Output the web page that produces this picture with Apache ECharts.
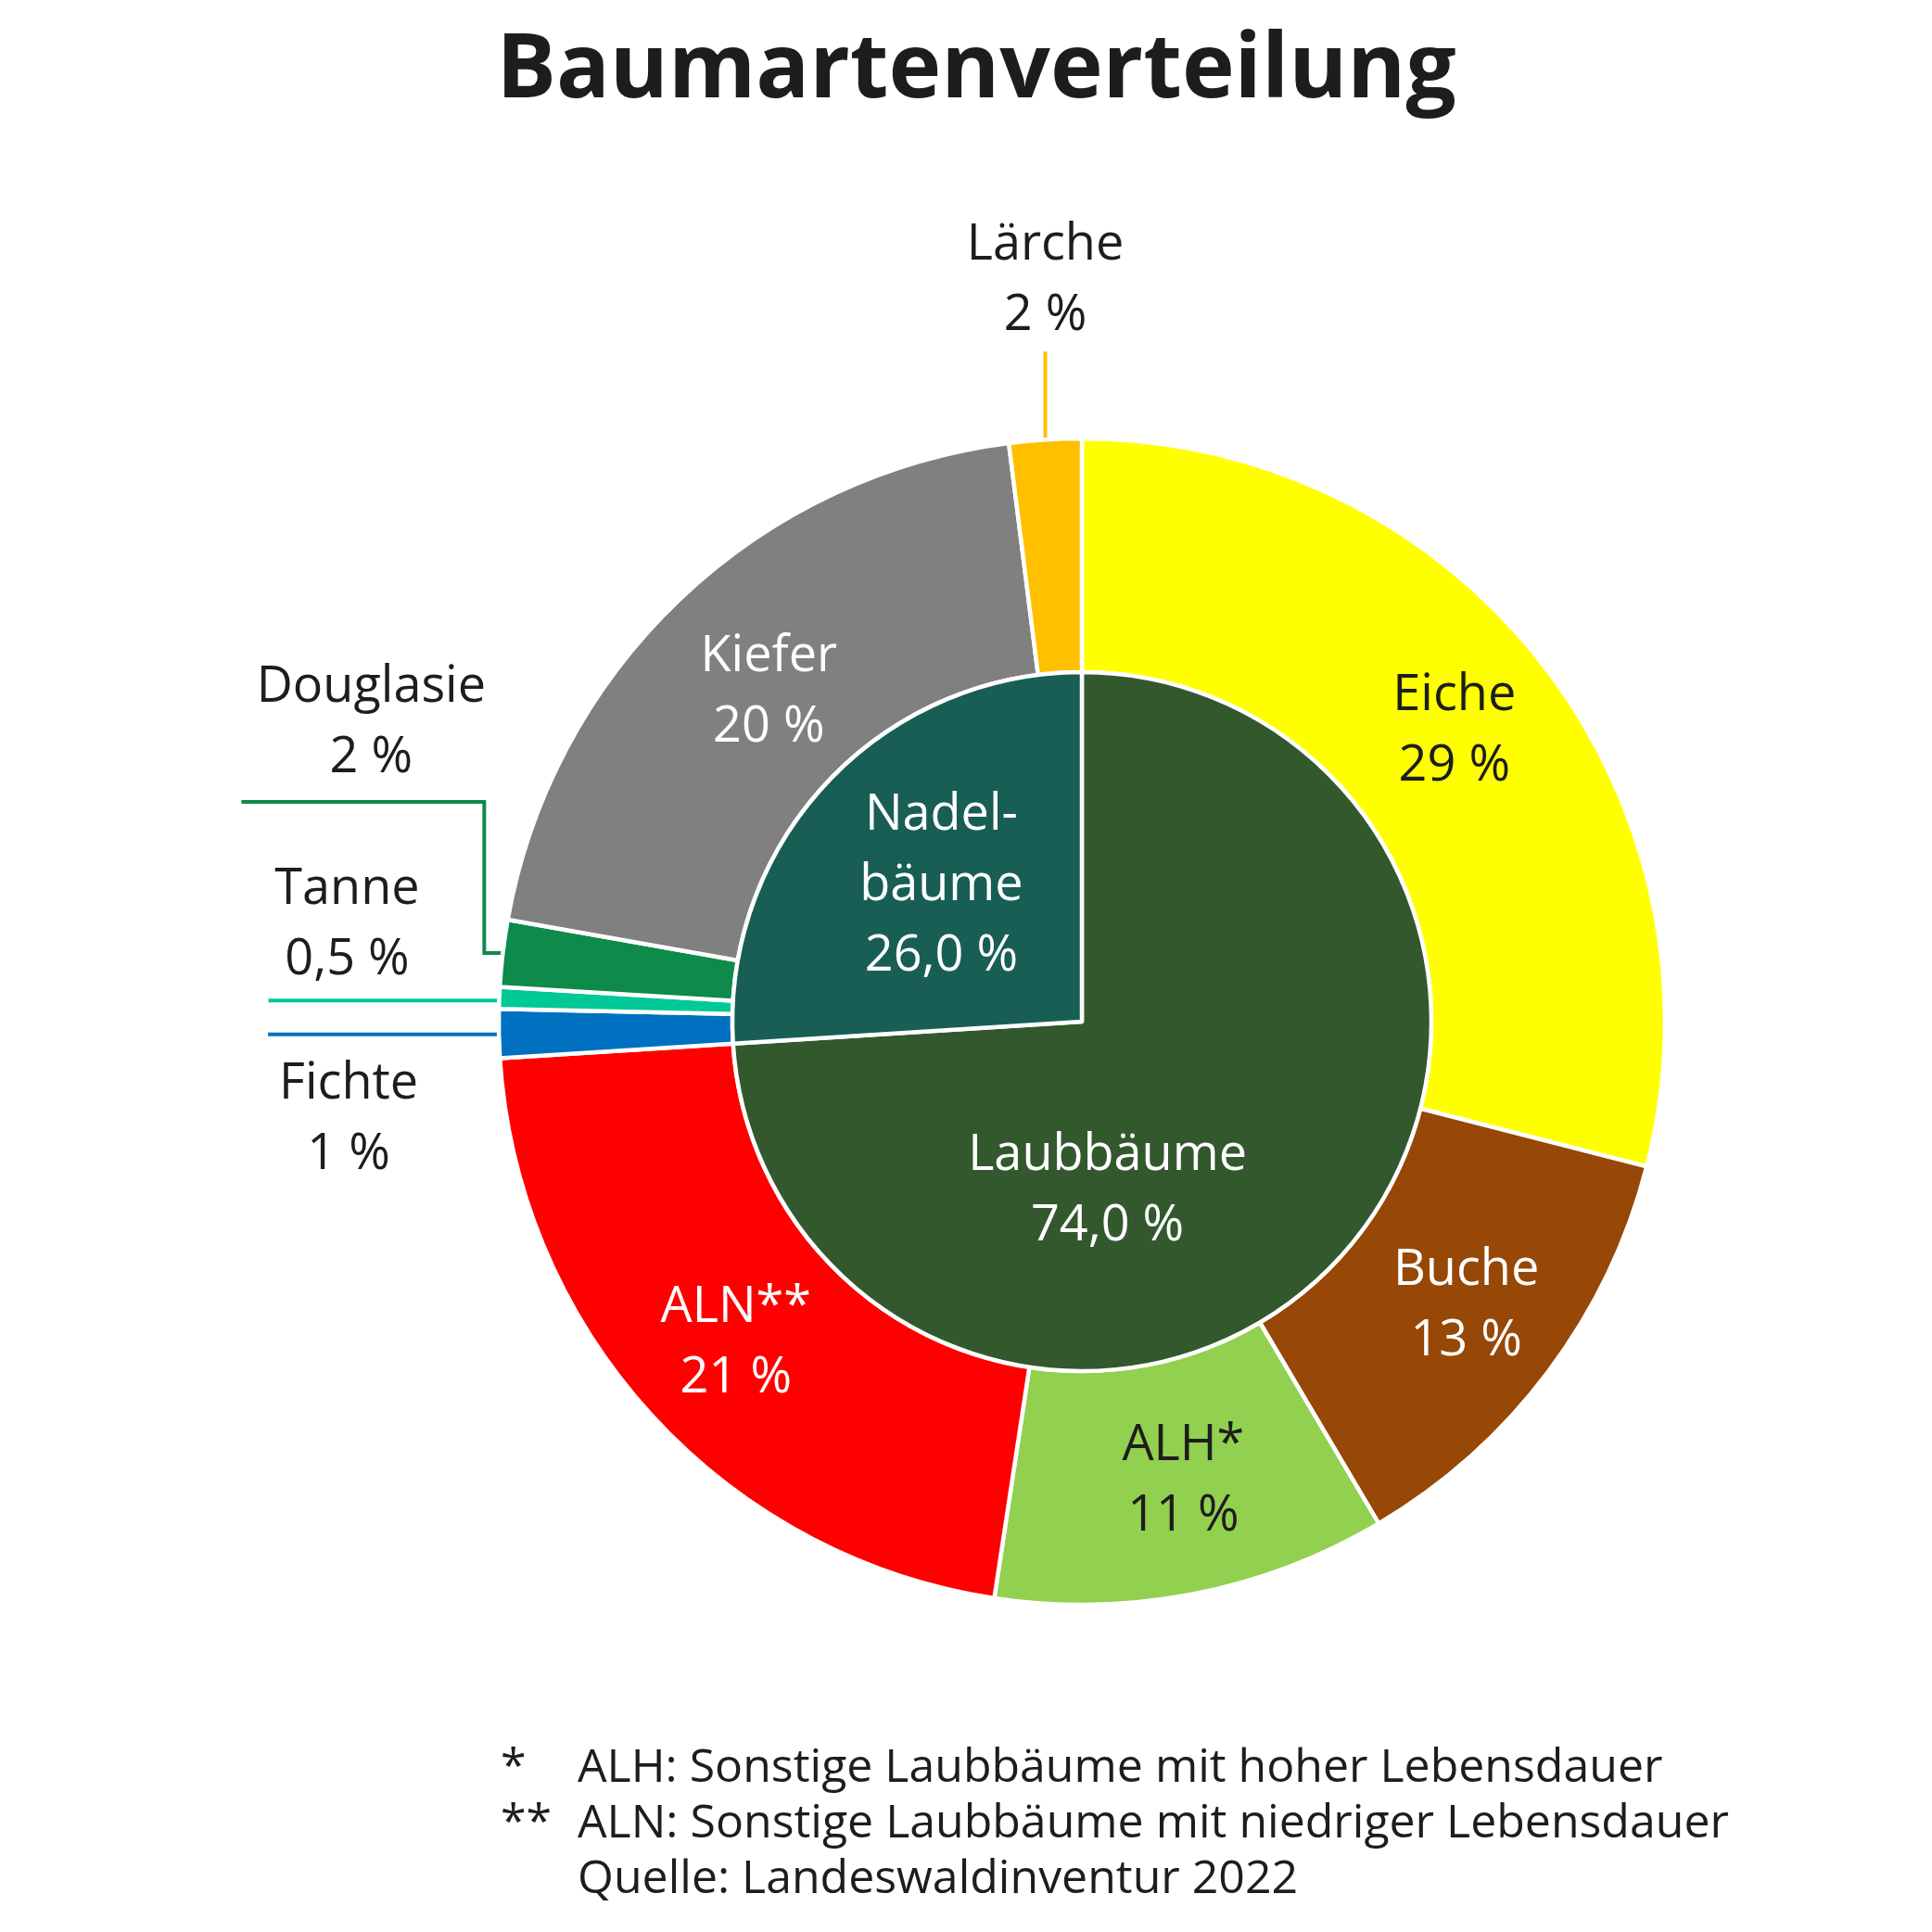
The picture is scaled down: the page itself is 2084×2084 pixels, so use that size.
<!DOCTYPE html>
<html>
<head>
<meta charset="utf-8">
<script src="https://cdn.jsdelivr.net/npm/echarts@6/dist/echarts.min.js"></script>
<style>
html,body{margin:0;padding:0;background:#fff;}
#c{width:2084px;height:2084px;}
</style>
</head>
<body>
<div id="c"></div>
<script>
// ---- data ----
const outerNames  = ['Eiche', 'Buche', 'ALH*', 'ALN**', 'Fichte', 'Tanne', 'Douglasie', 'Kiefer', 'Lärche'];
const outerValues = [29.0, 12.5, 10.9, 21.6, 1.35, 0.6, 1.85, 20.2, 2.0];
const outerLabels = ['29 %', '13 %', '11 %', '21 %', '1 %', '0,5 %', '2 %', '20 %', '2 %'];
const innerNames  = ['Laubbäume', 'Nadel-\nbäume'];
const innerValues = [74.0, 26.0];
const innerLabels = ['74,0 %', '26,0 %'];
const footnoteMarks = ['*', '**', ''];
const footnoteTexts = ['ALH: Sonstige Laubbäume mit hoher Lebensdauer',
                       'ALN: Sonstige Laubbäume mit niedriger Lebensdauer',
                       'Quelle: Landeswaldinventur 2022'];

// ---- styles ----
const outerColors = ['#FFFF00', '#974706', '#92D050', '#FF0000', '#0070C0', '#00C896', '#0E8A4A', '#808080', '#FFC000'];
const outerTextColors = ['#1d1d1b', '#ffffff', '#1d1d1b', '#ffffff', '#1d1d1b', '#1d1d1b', '#1d1d1b', '#ffffff', '#1d1d1b'];
const innerColors = ['#33582E', '#185E54'];
const FONT = 'Open Sans';
const TXT = '#1d1d1b';

// outside label placement relative to the label-line anchor (pixels)
const outsideCfg = {
  8: { label: [0, -172], line: [[0, 0], [0, -95]] },
  6: { label: [-142, -248], line: [[0, 0], [-20, 0], [-20, -163], [-282, -163]] },
  5: { label: [-164, -79], line: [[0, 3], [-249, 3]] },
  4: { label: [-162, 93], line: [[0, 1], [-249, 1]] }
};
// small nudges for the inside labels of the outer ring
const insideShift = { 0: [2, -3], 1: [10, 3], 2: [13, -1], 3: [0, 5], 7: [11, 11] };
const innerShift = [[-112, 52], [-12, -15]];

const outerData = outerNames.map((n, i) => {
  const isOut = outsideCfg[i] !== undefined;
  return {
    name: n,
    value: outerValues[i],
    itemStyle: { color: outerColors[i] },
    label: {
      position: isOut ? 'outside' : 'inside',
      color: outerTextColors[i]
    },
    labelLine: {
      show: isOut,
      length: 10,
      length2: 10,
      lineStyle: { color: outerColors[i], width: 4 }
    }
  };
});

const innerData = innerNames.map((n, i) => ({
  name: n,
  value: innerValues[i],
  itemStyle: { color: innerColors[i] }
}));

const chart = echarts.init(document.getElementById('c'), null, { renderer: 'canvas' });

const graphics = [];
footnoteTexts.forEach((t, i) => {
  const y = 1917 + i * 60;
  if (footnoteMarks[i]) {
    graphics.push({ type: 'text', left: 540, top: y - 34,
      style: { text: footnoteMarks[i], font: '50px "' + FONT + '"', fill: TXT } });
  }
  graphics.push({ type: 'text', left: 623, top: y - 34,
    style: { text: t, font: '50px "' + FONT + '"', fill: TXT } });
});

chart.setOption({
  backgroundColor: '#ffffff',
  animation: false,
  title: {
    text: 'Baumartenverteilung',
    left: 1048,
    textAlign: 'center',
    top: 25,
    textStyle: { fontFamily: FONT, fontWeight: 'bold', fontSize: 96, color: TXT }
  },
  graphic: graphics,
  series: [
    {
      type: 'pie',
      center: [1167, 1102],
      radius: [377, 629],
      startAngle: 90,
      clockwise: true,
      avoidLabelOverlap: false,
      itemStyle: { borderColor: '#ffffff', borderWidth: 4.5 },
      label: {
        fontFamily: FONT,
        fontSize: 54,
        lineHeight: 76,
        align: 'center',
        formatter: p => p.name + '\n' + outerLabels[p.dataIndex]
      },
      labelLayout: function (p) {
        const cfg = outsideCfg[p.dataIndex];
        if (!cfg) {
          const s = insideShift[p.dataIndex];
          return s ? { dx: s[0], dy: s[1] } : {};
        }
        if (!p.labelLinePoints) return {};
        const a = p.labelLinePoints[0];
        return {
          x: a[0] + cfg.label[0],
          y: a[1] + cfg.label[1],
          align: 'center',
          verticalAlign: 'middle',
          labelLinePoints: cfg.line.map(d => [a[0] + d[0], a[1] + d[1]])
        };
      },
      data: outerData
    },
    {
      type: 'pie',
      center: [1167, 1102],
      radius: [0, 377],
      startAngle: 90,
      clockwise: true,
      avoidLabelOverlap: false,
      itemStyle: { borderColor: '#ffffff', borderWidth: 4.5 },
      label: {
        position: 'inside',
        fontFamily: FONT,
        fontSize: 54,
        lineHeight: 76,
        color: '#ffffff',
        align: 'center',
        formatter: p => p.name + '\n' + innerLabels[p.dataIndex]
      },
      labelLine: { show: false },
      labelLayout: function (p) {
        const s = innerShift[p.dataIndex];
        return { dx: s[0], dy: s[1] };
      },
      data: innerData
    }
  ]
});
</script>
</body>
</html>
